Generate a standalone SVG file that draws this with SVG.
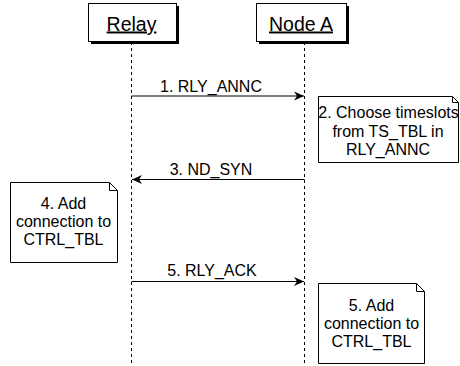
<svg xmlns="http://www.w3.org/2000/svg" width="460" height="366" viewBox="0 0 460 366">
<defs>
<style>
text{font-family:"Liberation Sans",Arial,Helvetica,sans-serif;fill:#000}
.lbl{font-size:16px;text-anchor:middle}
.hdr{font-size:19.5px;text-anchor:middle;text-decoration:underline}
.life{stroke:#000;stroke-width:1;stroke-dasharray:3 3;fill:none}
.msg{stroke:#000;stroke-width:1.2;fill:none}
.note{fill:#fff;stroke:#000;stroke-width:1}
.fold{stroke:#000;stroke-width:1;fill:none}
.box{fill:#fff;stroke:#000;stroke-width:1}
.shadow{fill:#000}
</style>
<marker id="ah" viewBox="0 0 10 10" refX="10" refY="5" markerWidth="10" markerHeight="10" markerUnits="userSpaceOnUse" orient="auto">
<path d="M0,0.5 L10,5 L0,9.5 L3,5 Z" fill="#000"/>
</marker>
</defs>
<rect width="460" height="366" fill="#fff"/>
<g id="connectors">
<line class="life" x1="131.5" y1="42" x2="131.5" y2="366"/>
<line class="life" x1="304.5" y1="42" x2="304.5" y2="366"/>
<line class="msg" x1="131.5" y1="96" x2="304" y2="96" marker-end="url(#ah)"/>
<text class="lbl" x="211" y="91.5">1. RLY_ANNC</text>
<line class="msg" x1="304.5" y1="179.5" x2="132" y2="179.5" marker-end="url(#ah)"/>
<text class="lbl" x="211" y="175">3. ND_SYN</text>
<line class="msg" x1="131.5" y1="281.5" x2="304" y2="281.5" marker-end="url(#ah)"/>
<text class="lbl" x="212" y="275.5">5. RLY_ACK</text>
</g>
<g id="relay">
<rect class="shadow" x="91" y="6" width="88" height="38"/>
<rect class="box" x="88.5" y="3.5" width="88" height="38"/>
<text class="hdr" x="131.5" y="30.5">Relay</text>
</g>
<g id="nodeA">
<rect class="shadow" x="259" y="6" width="90" height="38"/>
<rect class="box" x="256.5" y="3.5" width="90" height="38"/>
<text class="hdr" x="301" y="30.5">Node A</text>
</g>
<g id="note2">
<path class="note" d="M318.5,96.5 H452.5 L458.5,102.5 V162.5 H318.5 Z"/>
<path class="fold" d="M452.5,96.5 V102.5 H458.5"/>
<text class="lbl" x="388.5" y="118">2. Choose timeslots</text>
<text class="lbl" x="388" y="136.5">from TS_TBL in</text>
<text class="lbl" x="388" y="155">RLY_ANNC</text>
</g>
<g id="note4">
<path class="note" d="M10.5,182.5 H109.5 L117.5,190.5 V262.5 H10.5 Z"/>
<path class="fold" d="M109.5,182.5 V190.5 H117.5"/>
<text class="lbl" x="63.5" y="209">4. Add</text>
<text class="lbl" x="63.5" y="227">connection to</text>
<text class="lbl" x="63.5" y="245">CTRL_TBL</text>
</g>
<g id="note5">
<path class="note" d="M318.5,283.5 H416.5 L424.5,291.5 V363.5 H318.5 Z"/>
<path class="fold" d="M416.5,283.5 V291.5 H424.5"/>
<text class="lbl" x="371.5" y="311">5. Add</text>
<text class="lbl" x="371.5" y="329">connection to</text>
<text class="lbl" x="371.5" y="347">CTRL_TBL</text>
</g>
</svg>
